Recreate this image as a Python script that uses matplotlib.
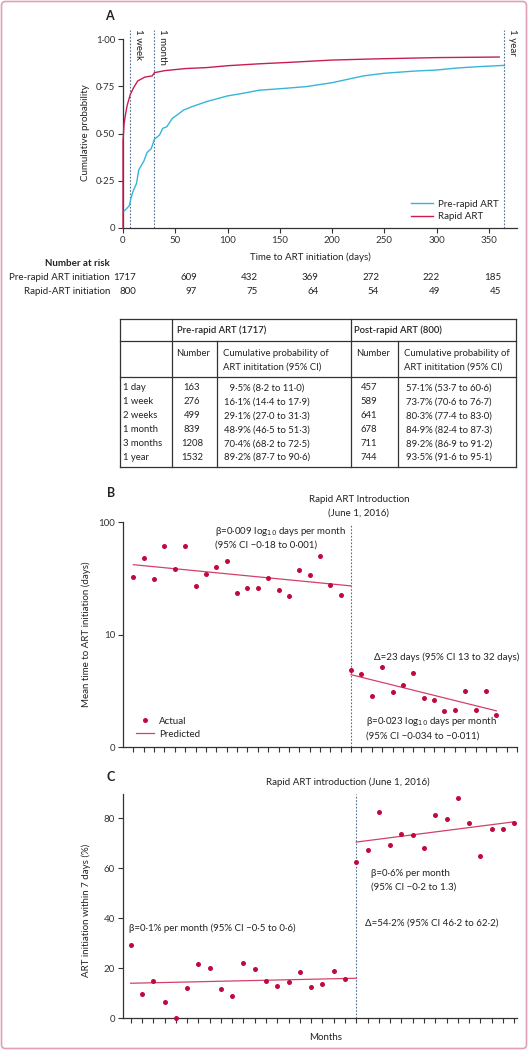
import numpy as np
import matplotlib
matplotlib.use("Agg")
import matplotlib.pyplot as plt
import matplotlib.transforms as mtransforms
from matplotlib.patches import FancyBboxPatch
from matplotlib.lines import Line2D

plt.rcParams['font.family'] = ['Lato', 'DejaVu Sans']
plt.rcParams['font.size'] = 7
plt.rcParams['axes.edgecolor'] = '#333333'
plt.rcParams['xtick.color'] = '#333333'
plt.rcParams['ytick.color'] = '#333333'
plt.rcParams['text.color'] = '#222222'

W, H = 528, 1050

# ---- panel A: cumulative probability of ART initiation
pre_days = [0, 3, 6, 8, 10, 13, 15, 20, 23, 27, 30, 35, 38, 42, 47, 52, 58, 66, 80, 90,
            100, 115, 130, 150, 175, 200, 215, 230, 250, 280, 300, 320, 340, 365]
pre_prob = [0.085, 0.10, 0.118, 0.166, 0.20, 0.237, 0.307, 0.355, 0.40, 0.42, 0.47, 0.493,
            0.528, 0.537, 0.58, 0.60, 0.625, 0.643, 0.67, 0.685, 0.70, 0.714, 0.73, 0.738,
            0.749, 0.77, 0.788, 0.806, 0.82, 0.832, 0.837, 0.848, 0.855, 0.862]
rapid_days = [0, 0, 1, 2, 4, 7, 10, 14, 21, 28, 30, 40, 60, 80, 100, 130, 160, 200, 240, 300, 360]
rapid_prob = [0, 0.46, 0.55, 0.59, 0.65, 0.708, 0.742, 0.779, 0.80, 0.806, 0.823, 0.834,
              0.845, 0.85, 0.86, 0.87, 0.878, 0.89, 0.896, 0.903, 0.906]
mark_days = [7, 30, 365]
mark_labels = ["1 week", "1 month", "1 year"]

risk_days = [0, 60, 120, 180, 240, 300, 360]
risk_pre = [1717, 609, 432, 369, 272, 222, 185]
risk_rapid = [800, 97, 75, 64, 54, 49, 45]

# ---- table
tab_rows = ["1 day", "1 week", "2 weeks", "1 month", "3 months", "1 year"]
tab_pre_n = [163, 276, 499, 839, 1208, 1532]
tab_pre_p = ["\u20079·5% (8·2 to 11·0)", "16·1% (14·4 to 17·9)", "29·1% (27·0 to 31·3)",
             "48·9% (46·5 to 51·3)", "70·4% (68·2 to 72·5)", "89·2% (87·7 to 90·6)"]
tab_post_n = [457, 589, 641, 678, 711, 744]
tab_post_p = ["57·1% (53·7 to 60·6)", "73·7% (70·6 to 76·7)", "80·3% (77·4 to 83·0)",
              "84·9% (82·4 to 87·3)", "89·2% (86·9 to 91·2)", "93·5% (91·6 to 95·1)"]

# ---- panel B: mean time to ART initiation (days), monthly
b_pre = [32.4, 47.9, 31.1, 62, 38.5, 61, 27.4, 34.7, 39.8, 45.6, 23.5, 26.3, 25.9, 32.2,
         25.2, 22.1, 37.9, 34.0, 50.6, 27.5, 22.6]
b_post = [4.87, 4.48, 2.86, 5.17, 3.08, 3.56, 4.6, 2.73, 2.62, 2.1, 2.15, 3.17, 2.15, 3.17, 1.92]
b_fit_pre = [42, 27.2]
b_fit_post = [4.42, 2.11]

# ---- panel C: ART initiation within 7 days (%)
c_pre = [29.3, 9.7, 14.9, 6.4, 0, 12.2, 21.8, 20.0, 11.6, 8.9, 22.0, 19.7, 15.0, 13.0,
         14.4, 18.5, 12.5, 13.6, 18.9, 15.6]
c_post = [62.3, 67.2, 82.3, 69.4, 73.6, 73.2, 68.2, 81.1, 79.7, 88.0, 77.9, 65.0, 75.5, 75.7, 77.9]
c_fit_pre = [14.0, 16.0]
c_fit_post = [70.4, 78.5]

CYAN = '#35b6d8'
RED = '#c81e50'
DOT = '#c0093f'
FIT = '#d4406a'
VLINE = '#4f6f8f'

fig = plt.figure(figsize=(W / 100, H / 100), dpi=100)


def px_axes(left, top, right, bottom, **kw):
    return fig.add_axes([left / W, 1 - bottom / H, (right - left) / W, (bottom - top) / H], **kw)


ov = px_axes(0, 0, W, H)
ov.set_xlim(0, W)
ov.set_ylim(H, 0)
ov.axis('off')
ov.add_patch(FancyBboxPatch((1.5, 1.5), W - 3, H - 3, boxstyle="round,pad=0,rounding_size=4",
                            fc='none', ec='#e2a0b6', lw=1.2))


def style_axes(ax):
    for s in ['top', 'right']:
        ax.spines[s].set_visible(False)
    for s in ['left', 'bottom']:
        ax.spines[s].set_linewidth(0.9)
    ax.tick_params(direction='out', length=3.5, width=0.8, labelsize=7, pad=2)
    ax.patch.set_alpha(0)


# ================= Panel A =================
axA = px_axes(123, 228 - 1.06 * 188.7, 517, 228)
style_axes(axA)
axA.set_xlim(0, 377)
axA.set_ylim(0, 1.06)
axA.spines['left'].set_bounds(0, 1)
axA.plot(pre_days, pre_prob, color=CYAN, lw=1.0, label='Pre-rapid ART', zorder=3)
axA.plot(rapid_days, rapid_prob, color=RED, lw=1.0, label='Rapid ART', zorder=4, clip_on=False)
for d, lab in zip(mark_days, mark_labels):
    axA.plot([d, d], [0, 1.05], color=VLINE, lw=0.8, ls=(0, (1.5, 1.5)), zorder=2, clip_on=False)
    axA.annotate(lab, xy=(d, 1.055), xytext=(2.5, 0), textcoords='offset points',
                 rotation=270, ha='left', va='top', fontsize=7, annotation_clip=False)
axA.set_xticks(range(0, 351, 50))
axA.set_yticks([0, 0.25, 0.5, 0.75, 1.0])
axA.set_yticklabels(['0', '0·25', '0·50', '0·75', '1·00'])
axA.legend(loc='lower right', bbox_to_anchor=(0.975, -0.01), frameon=False, fontsize=7,
           handlelength=2.3, handletextpad=0.5, labelspacing=0.35)
ov.text(109, 16, 'A', fontsize=9, fontweight='bold', ha='center', va='center')
ov.text(85, 133, 'Cumulative probability', rotation=90, ha='center', va='center')
ov.text(310, 257, 'Time to ART initiation (days)', ha='center', va='center')

# number at risk
ov.text(110, 264, 'Number at risk', ha='right', va='center', fontweight='bold')
ov.text(110, 278, 'Pre-rapid ART initiation', ha='right', va='center')
ov.text(110, 291, 'Rapid-ART initiation', ha='right', va='center')
trA = mtransforms.blended_transform_factory(axA.transData, ov.transData)
shift = mtransforms.ScaledTranslation(13 / 100, 0, fig.dpi_scale_trans)
for d, a, b in zip(risk_days, risk_pre, risk_rapid):
    ov.text(d - 0.03 * d, 278, str(a), ha='right', va='center', transform=trA + shift)
    ov.text(d - 0.03 * d, 291, str(b), ha='right', va='center', transform=trA + shift)

# ================= Table =================
TFS = 6.8
tL, tC1, tN1, tM, tN2, tR = 120, 172, 217, 351, 398, 516
tT, tH1, tH2, tB = 319, 341, 377, 467
lw_t = 0.9
for x in [tL, tC1, tM, tR]:
    ov.plot([x, x], [tT, tB], color='#333333', lw=lw_t)
for x in [tN1, tN2]:
    ov.plot([x, x], [tH1, tB], color='#333333', lw=lw_t)
for y in [tT, tH1, tH2, tB]:
    ov.plot([tL, tR], [y, y], color='#333333', lw=lw_t)
ov.text(tC1 + 5, (tT + tH1) / 2, 'Pre-rapid ART (1717)', ha='left', va='center',
        fontweight='semibold', fontsize=TFS)
ov.text(tM + 3, (tT + tH1) / 2, 'Post-rapid ART (800)', ha='left', va='center',
        fontweight='semibold', fontsize=TFS)
for xn, xc in [(tC1 + 4, tN1 + 6), (tM + 5, tN2 + 6)]:
    ov.text(xn, 353, 'Number', ha='left', va='center', fontsize=TFS)
    ov.text(xc, 353, 'Cumulative probability of', ha='left', va='center', fontsize=TFS)
    ov.text(xc, 367, 'ART inititation (95% CI)', ha='left', va='center', fontsize=TFS)
row_y = [388, 402, 416, 430, 444, 457]
for i, y in enumerate(row_y):
    ov.text(tL + 3, y, tab_rows[i], ha='left', va='center', fontsize=TFS)
    ov.text(192, y, str(tab_pre_n[i]), ha='center', va='center', fontsize=TFS)
    ov.text(tN1 + 7, y, tab_pre_p[i], ha='left', va='center', fontsize=TFS)
    ov.text(369, y, str(tab_post_n[i]), ha='center', va='center', fontsize=TFS)
    ov.text(tN2 + 8, y, tab_post_p[i], ha='left', va='center', fontsize=TFS)

# ================= Panel B =================
axB = px_axes(123, 522.3, 517, 747.3)
style_axes(axB)
axB.set_yscale('log')
axB.set_xlim(0, 38)
axB.set_ylim(1, 100)
x_pre_b = np.arange(1, 1 + len(b_pre))
x_post_b = np.arange(22, 22 + len(b_post))
axB.plot([22, 22], [1, 96], color=VLINE, lw=0.8, ls=(0, (1.5, 1.5)), zorder=1)
axB.plot(x_pre_b, b_pre, 'o', color=DOT, ms=3.6, mec='none', clip_on=False, zorder=3)
axB.plot(x_post_b, b_post, 'o', color=DOT, ms=3.6, mec='none', clip_on=False, zorder=3)
axB.plot([x_pre_b[0], 22], b_fit_pre, color=FIT, lw=0.9, zorder=2)
axB.plot([22, x_post_b[-1]], b_fit_post, color=FIT, lw=0.9, zorder=2)
axB.set_xticks(range(1, 39))
axB.set_xticklabels([])
axB.yaxis.set_minor_locator(matplotlib.ticker.NullLocator())
axB.set_yticks([1, 10, 100])
axB.set_yticklabels(['0', '10', '100'])
handles = [Line2D([], [], marker='o', ls='none', color=DOT, ms=3.6, mec='none'),
           Line2D([], [], color=FIT, lw=0.9)]
axB.legend(handles, ['Actual', 'Predicted'], loc='lower left', bbox_to_anchor=(0.01, 0.0),
           frameon=False, fontsize=7, handlelength=1.9, handletextpad=0.5, labelspacing=0.4)
ov.text(111, 493, 'B', fontsize=9, fontweight='bold', ha='center', va='center')
ov.text(359, 499, 'Rapid ART Introduction', ha='center', va='center')
ov.text(359, 513, '(June 1, 2016)', ha='center', va='center')
ov.text(86, 634, 'Mean time to ART initiation (days)', rotation=90, ha='center', va='center')
ov.text(215, 531, 'β=0·009 log$_{10}$ days per month', ha='left', va='center')
ov.text(215, 545, '(95% CI −0·18 to 0·001)', ha='left', va='center')
ov.text(374, 657, 'Δ=23 days (95% CI 13 to 32 days)', ha='left', va='center')
ov.text(366, 722, 'β=0·023 log$_{10}$ days per month', ha='left', va='center')
ov.text(366, 736, '(95% CI −0·034 to −0·011)', ha='left', va='center')

# ================= Panel C =================
axC = px_axes(122.7, 794, 517, 1018.3)
style_axes(axC)
axC.set_xlim(-0.71, 34.25)
axC.set_ylim(0, 89.6)
x_pre_c = np.arange(0, len(c_pre))
x_post_c = np.arange(20, 20 + len(c_post))
axC.plot([20, 20], [0, 89.6], color=VLINE, lw=0.8, ls=(0, (1.5, 1.5)), zorder=1, clip_on=False)
axC.plot(x_pre_c, c_pre, 'o', color=DOT, ms=3.6, mec='none', clip_on=False, zorder=3)
axC.plot(x_post_c, c_post, 'o', color=DOT, ms=3.6, mec='none', clip_on=False, zorder=3)
axC.plot([x_pre_c[0], 20], c_fit_pre, color=FIT, lw=0.9, zorder=2)
axC.plot([20, x_post_c[-1]], c_fit_post, color=FIT, lw=0.9, zorder=2)
axC.set_xticks(range(0, 35))
axC.set_xticklabels([])
axC.set_yticks([0, 20, 40, 60, 80])
ov.text(111, 777, 'C', fontsize=9, fontweight='bold', ha='center', va='center')
ov.text(348, 782, 'Rapid ART introduction (June 1, 2016)', ha='center', va='center')
ov.text(86, 910, 'ART initiation within 7 days (%)', rotation=90, ha='center', va='center')
ov.text(326, 1037, 'Months', ha='center', va='center')
ov.text(129, 928, 'β=0·1% per month (95% CI −0·5 to 0·6)', ha='left', va='center')
ov.text(371, 873, 'β=0·6% per month', ha='left', va='center')
ov.text(371, 887, '(95% CI −0·2 to 1.3)', ha='left', va='center')
ov.text(365, 923, 'Δ=54·2% (95% CI 46·2 to 62·2)', ha='left', va='center')

fig.savefig('out.png', dpi=100)
